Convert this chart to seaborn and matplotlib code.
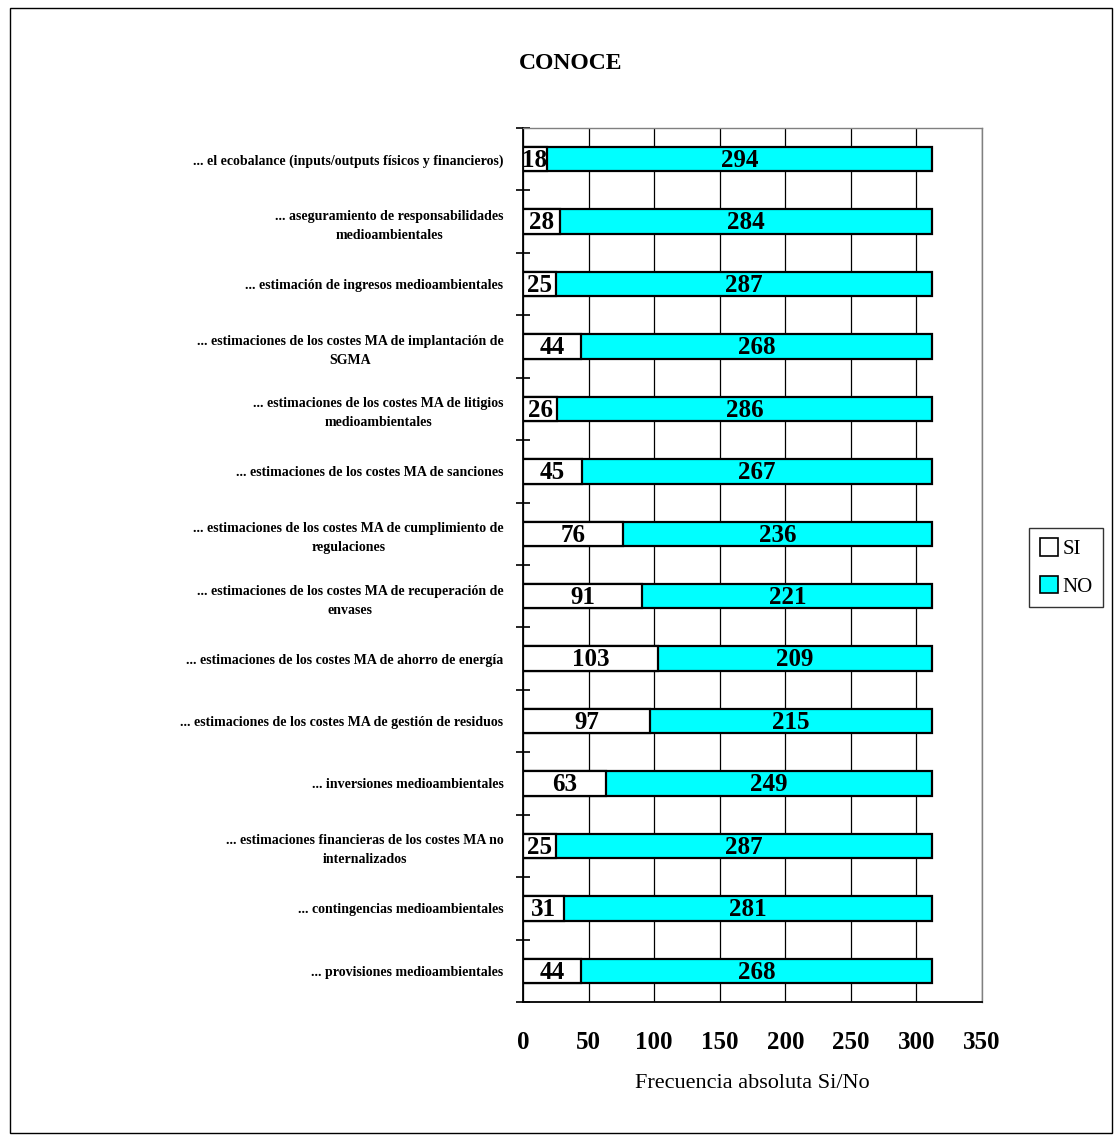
import matplotlib
matplotlib.use("Agg")
import numpy as np
import pandas as pd
import seaborn as sns
import matplotlib.pyplot as plt
from matplotlib.patches import Rectangle

# data
categories = [
    "... el ecobalance (inputs/outputs físicos y financieros)",
    "... aseguramiento de responsabilidades\nmedioambientales",
    "... estimación de ingresos medioambientales",
    "... estimaciones de los costes MA de implantación de\nSGMA",
    "... estimaciones de los costes MA de litigios\nmedioambientales",
    "... estimaciones de los costes MA de sanciones",
    "... estimaciones de los costes MA de cumplimiento de\nregulaciones",
    "... estimaciones de los costes MA de recuperación de\nenvases",
    "... estimaciones de los costes MA de ahorro de energía",
    "... estimaciones de los costes MA de gestión de residuos",
    "... inversiones medioambientales",
    "... estimaciones financieras de los costes MA no\ninternalizados",
    "... contingencias medioambientales",
    "... provisiones medioambientales",
]
si_values = [18, 28, 25, 44, 26, 45, 76, 91, 103, 97, 63, 25, 31, 44]
no_values = [294, 284, 287, 268, 286, 267, 236, 221, 209, 215, 249, 287, 281, 268]
series_names = ["SI", "NO"]
xticks = [0, 50, 100, 150, 200, 250, 300, 350]

df = pd.DataFrame({"cat": categories, "SI": si_values, "NO": no_values})
df["total"] = df["SI"] + df["NO"]

sns.set_theme(style="white")
plt.rcParams["font.family"] = ["Liberation Serif", "DejaVu Serif"]
plt.rcParams["text.color"] = "black"
plt.rcParams["axes.labelcolor"] = "black"
plt.rcParams["xtick.color"] = "black"
plt.rcParams["ytick.color"] = "black"

fig = plt.figure(figsize=(11.14, 11.35), dpi=100)
ax = fig.add_axes([0.4695, 0.1172, 0.412, 0.77])

cyan = "#00FFFF"
sns.barplot(data=df, y="cat", x="total", color=cyan, edgecolor="black",
            linewidth=1.6, width=0.39, saturation=1, ax=ax, zorder=3)
sns.barplot(data=df, y="cat", x="SI", color="white", edgecolor="black",
            linewidth=1.6, width=0.39, saturation=1, ax=ax, zorder=4)

# value labels centred in each segment
for i, (s, n) in enumerate(zip(df["SI"], df["NO"])):
    ax.text(s / 2, i + 0.02, str(s), ha="center", va="center", fontsize=18,
            fontweight="bold", color="black", zorder=5)
    ax.text(s + n / 2, i + 0.02, str(n), ha="center", va="center", fontsize=18,
            fontweight="bold", color="black", zorder=5)

ax.set_xlim(0, 350)
ax.set_ylim(len(categories) - 0.5, -0.5)
ax.set_xticks(xticks)
ax.set_xticklabels([str(t) for t in xticks], fontsize=18, fontweight="bold")
ax.tick_params(axis="x", direction="inout", length=12, width=1.2, pad=15,
               colors="black")
ax.set_yticks(range(len(categories)))
ax.set_yticklabels(categories, fontsize=10, fontweight="bold",
                   multialignment="center", linespacing=1.6)
ax.tick_params(axis="y", length=0, pad=14)
ax.set_yticks(np.arange(len(categories) + 1) - 0.5, minor=True)
ax.tick_params(axis="y", which="minor", direction="inout", length=10, width=1.2,
               left=True)

ax.grid(axis="x", color="black", linewidth=0.9, zorder=0)
ax.set_axisbelow(True)
ax.set_xlabel("Frecuencia absoluta Si/No", fontsize=16, labelpad=14)
ax.set_ylabel("")

for side in ["left", "bottom"]:
    ax.spines[side].set_color("black")
    ax.spines[side].set_linewidth(1.3)
for side in ["top", "right"]:
    ax.spines[side].set_color("#808080")
    ax.spines[side].set_linewidth(1.0)

fig.text(0.512, 0.944, "CONOCE", ha="center", va="center", fontsize=17,
         fontweight="bold")

handles = [Rectangle((0, 0), 1, 1, facecolor="white", edgecolor="black", linewidth=1.2),
           Rectangle((0, 0), 1, 1, facecolor=cyan, edgecolor="black", linewidth=1.2)]
leg = fig.legend(handles, series_names, loc="center", bbox_to_anchor=(0.957, 0.5)
                 , fontsize=15, frameon=True, fancybox=False, handlelength=0.9,
                 handleheight=0.9, handletextpad=0.2, borderpad=0.5, labelspacing=0.8)
leg.get_frame().set_edgecolor("black")
leg.get_frame().set_linewidth(1.0)

fig.patches.append(Rectangle((10 / 1114, 2 / 1135), 1102 / 1114, 1125 / 1135,
                             transform=fig.transFigure, fill=False,
                             edgecolor="black", linewidth=1.0))

fig.savefig("out.png", dpi=100)
